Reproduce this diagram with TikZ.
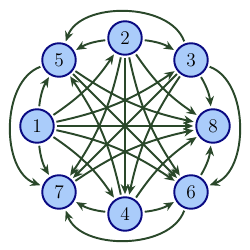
\documentclass[tikz,border=0pt]{standalone}
\usetikzlibrary{arrows.meta}
\definecolor{nodefill}{RGB}{170,204,250}
\definecolor{nodeline}{RGB}{10,10,130}
\definecolor{linkgreen}{RGB}{42,72,42}
\begin{document}
\begin{tikzpicture}[x=0.2mm, y=0.2mm,
  vertex/.style={circle, draw=nodeline, fill=nodefill, line width=1.1pt,
    minimum size=6.7mm, inner sep=0pt, font=\fontsize{11}{13}\selectfont},
  link/.style={draw=linkgreen, line width=1.1pt,
    -{Stealth[length=2mm, width=1.7mm]}, shorten >=1.2pt, shorten <=1.2pt}]
\useasboundingbox (-125,-124) rectangle (125,126);
% vertices on the octagon
\node[vertex] (n2) at (0,88) {2};
\node[vertex] (n3) at (66,66) {3};
\node[vertex] (n8) at (88,0) {8};
\node[vertex] (n6) at (66,-66) {6};
\node[vertex] (n4) at (0,-88) {4};
\node[vertex] (n7) at (-66,-66) {7};
\node[vertex] (n1) at (-88,0) {1};
\node[vertex] (n5) at (-66,66) {5};
% neighbours, bowing outwards
\foreach \a/\b in {2/3, 3/8, 4/7, 1/5}
  \draw[link] (n\a) to[bend left=12] (n\b);
\foreach \a/\b in {2/5, 6/8, 4/6, 1/7}
  \draw[link] (n\a) to[bend right=12] (n\b);
% outer arcs
\draw[link] (n3) to[out=110, in=70, looseness=0.95] (n5);
\draw[link] (n5) to[out=200, in=160, looseness=0.95] (n7);
\draw[link] (n6) to[out=250, in=290, looseness=0.95] (n7);
\draw[link] (n3) to[out=-20, in=20, looseness=0.95] (n6);
% chords, bowing towards the centre
\foreach \a/\b in {1/2, 1/3, 2/6, 2/8, 3/4, 4/5, 5/8}
  \draw[link] (n\a) to[bend right=11] (n\b);
\foreach \a/\b in {1/4, 1/6, 2/7, 4/8, 7/8}
  \draw[link] (n\a) to[bend left=11] (n\b);
% diameters
\foreach \a/\b in {1/8, 2/4, 3/7, 5/6}
  \draw[link] (n\a) -- (n\b);
\end{tikzpicture}
\end{document}
